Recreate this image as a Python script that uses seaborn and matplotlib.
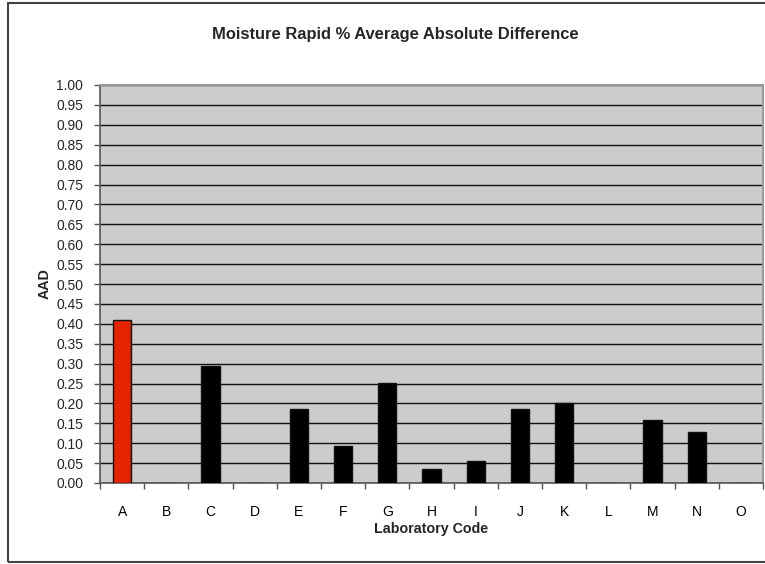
import matplotlib
matplotlib.use("Agg")
import matplotlib.pyplot as plt
import seaborn as sns
import pandas as pd
import numpy as np
from matplotlib.patches import Rectangle

categories = ["A", "B", "C", "D", "E", "F", "G", "H", "I", "J", "K", "L", "M", "N", "O"]
aad_values = [0.41, 0.0, 0.294, 0.0, 0.187, 0.093, 0.251, 0.036, 0.055, 0.185, 0.20, 0.0, 0.158, 0.127, 0.0]
bar_colors = ["#E42300"] + ["#000000"] * 14
y_ticks = [round(0.05 * i, 2) for i in range(21)]

df = pd.DataFrame({"Laboratory Code": categories, "AAD": aad_values})

sns.set_theme(style="white")
plt.rcParams["font.family"] = ["Liberation Sans", "DejaVu Sans"]

W, H = 765, 564
fig = plt.figure(figsize=(W / 100, H / 100), dpi=100)
ax = fig.add_axes([100 / W, 1 - 483 / H, 663 / W, 398 / H])

sns.barplot(data=df, x="Laboratory Code", y="AAD", hue="Laboratory Code",
            palette=bar_colors, legend=False, width=0.41, saturation=1, ax=ax,
            edgecolor="#111111", linewidth=1.0, zorder=3)

ax.set_facecolor("#CCCCCC")
ax.set_ylim(0, 1.0)
ax.set_xlim(-0.5, len(categories) - 0.5)
ax.set_yticks(y_ticks)
ax.set_yticklabels([f"{v:.2f}" for v in y_ticks])
ax.yaxis.grid(True, color="#111111", linewidth=1.0, zorder=1)
ax.xaxis.grid(False)
ax.set_axisbelow(True)

# category tick marks at boundaries
ax.set_xticks(np.arange(len(categories)))
ax.set_xticks(np.arange(len(categories) + 1) - 0.5, minor=True)
ax.tick_params(axis="x", which="major", length=0, pad=15.5, labelsize=10, colors="black")
ax.tick_params(axis="x", which="minor", length=4, width=1, color="#555555", direction="out", bottom=True)
ax.tick_params(axis="y", which="major", length=4, width=1, color="#555555", pad=8,
               labelsize=10, direction="out", left=True)

for side in ["top", "right"]:
    ax.spines[side].set_color("#999999")
    ax.spines[side].set_linewidth(1.5)
for side in ["left", "bottom"]:
    ax.spines[side].set_color("#555555")
    ax.spines[side].set_linewidth(1.2)

ax.set_xlabel("Laboratory Code", fontsize=10.3, fontweight="bold")
ax.set_ylabel("AAD", fontsize=10.3, fontweight="bold")
ax.xaxis.set_label_coords(0.5, -0.098)
ax.yaxis.set_label_coords(-0.073, 0.5)

fig.text(395 / W, 1 - 35 / H, "Moisture Rapid % Average Absolute Difference",
         ha="center", va="center", fontsize=11.9, fontweight="bold")

# chart area border
fig.patches.append(Rectangle((7.5 / W, 2.5 / H), 1.2, (561.5 - 2.5) / H,
                             transform=fig.transFigure, fill=False,
                             edgecolor="#444444", linewidth=1.5))

fig.savefig("out.png", dpi=100, facecolor="white")
